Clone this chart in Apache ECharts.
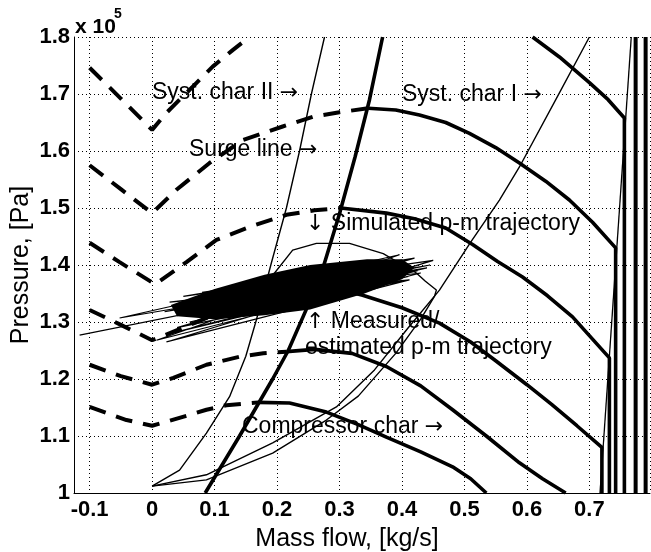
<!DOCTYPE html>
<html>
<head>
<meta charset="utf-8">
<script src="https://cdn.jsdelivr.net/npm/echarts@6/dist/echarts.min.js"></script>
<style>
  html, body { margin: 0; padding: 0; background: #fff; }
  #chart { width: 651px; height: 552px; }
</style>
</head>
<body>
<div id="chart"></div>
<script>
// pressure in units of 1e5 Pa, mass flow in kg/s

// compressor speed lines: dashed part (unstable / reverse flow) and solid part (stable, ending in choke)
const s1Dash = [[-0.1, 1.746], [-0.05, 1.692], [0, 1.637], [0.023, 1.667], [0.044, 1.69], [0.068, 1.716], [0.097, 1.748], [0.129, 1.777], [0.156, 1.8]];
const s1Solid = [[0.609, 1.8], [0.652, 1.765], [0.7, 1.72], [0.73, 1.69], [0.756, 1.658], [0.756, 1.0]];

const s2Dash = [[-0.1, 1.575], [-0.05, 1.533], [0, 1.491], [0.039, 1.532], [0.092, 1.579], [0.145, 1.619], [0.209, 1.643], [0.257, 1.66], [0.3, 1.668], [0.346, 1.675]];
const s2Solid = [[0.346, 1.675], [0.39, 1.672], [0.428, 1.663], [0.47, 1.65], [0.508, 1.631], [0.55, 1.606], [0.588, 1.579], [0.63, 1.547], [0.668, 1.514], [0.705, 1.475], [0.742, 1.43], [0.742, 1.0]];

const s3Dash = [[-0.1, 1.439], [-0.052, 1.405], [0.005, 1.366], [0.055, 1.405], [0.103, 1.444], [0.156, 1.467], [0.215, 1.488], [0.26, 1.496], [0.302, 1.5]];
const s3Solid = [[0.302, 1.5], [0.375, 1.491], [0.42, 1.481], [0.47, 1.465], [0.513, 1.436], [0.553, 1.406], [0.593, 1.379], [0.633, 1.346], [0.673, 1.309], [0.705, 1.27], [0.732, 1.237], [0.732, 1.0]];

const s4Dash = [[-0.1, 1.321], [-0.05, 1.295], [0, 1.268], [0.05, 1.29], [0.1, 1.313], [0.15, 1.333], [0.2, 1.35], [0.259, 1.362]];
const s4Solid = [[0.259, 1.362], [0.3, 1.357], [0.337, 1.347], [0.4, 1.325], [0.46, 1.298], [0.51, 1.265], [0.55, 1.232], [0.6, 1.19], [0.64, 1.155], [0.68, 1.118], [0.72, 1.08], [0.72, 1.0]];

const s5Dash = [[-0.1, 1.225], [-0.05, 1.205], [0, 1.19], [0.034, 1.202], [0.087, 1.225], [0.14, 1.239], [0.178, 1.245], [0.215, 1.248]];
const s5Solid = [[0.215, 1.248], [0.26, 1.252], [0.32, 1.245], [0.375, 1.222], [0.43, 1.188], [0.481, 1.146], [0.535, 1.1], [0.588, 1.053], [0.625, 1.025], [0.662, 1.0]];

const s6Dash = [[-0.1, 1.151], [-0.041, 1.128], [0, 1.118], [0.023, 1.125], [0.087, 1.146], [0.119, 1.154], [0.17, 1.159]];
const s6Solid = [[0.17, 1.159], [0.22, 1.158], [0.279, 1.142], [0.33, 1.12], [0.375, 1.098], [0.43, 1.072], [0.481, 1.046], [0.51, 1.025], [0.535, 1.0]];

// speed lines whose curves lie above the plot: only their choke part shows
const choke7 = [[0.774, 1.8], [0.774, 1.0]];
const choke8 = [[0.79, 1.8], [0.79, 1.0]];
const chokeThin = [[0.717, 1.0], [0.767, 1.8]];

const surgeLine = [[0.085, 1.0], [0.14, 1.1], [0.193, 1.2], [0.218, 1.25], [0.25, 1.33], [0.275, 1.4], [0.3, 1.49], [0.325, 1.59], [0.348, 1.69], [0.369, 1.8]];

const systCharI = [[0, 1.012], [0.087, 1.032], [0.193, 1.088], [0.295, 1.151], [0.356, 1.216], [0.41, 1.29], [0.46, 1.356], [0.51, 1.44], [0.556, 1.514], [0.588, 1.572], [0.652, 1.702], [0.7, 1.8]];
const systCharII = [[0, 1.012], [0.044, 1.04], [0.087, 1.105], [0.124, 1.169], [0.15, 1.24], [0.167, 1.304], [0.191, 1.404], [0.215, 1.5], [0.236, 1.6], [0.255, 1.7], [0.276, 1.8]];

const simTraj = [[0, 1.012], [0.087, 1.023], [0.193, 1.07], [0.279, 1.128], [0.33, 1.17], [0.39, 1.245], [0.43, 1.305], [0.452, 1.345], [0.455, 1.356], [0.437, 1.372], [0.423, 1.386], [0.37, 1.42], [0.316, 1.438], [0.263, 1.438], [0.225, 1.426], [0.191, 1.379]];

// measured / estimated trajectory: strokes back and forth plus the dense core
const measTraj = [
  [-0.116, 1.277], [0.445, 1.4],
  [-0.052, 1.307], [0.396, 1.418],
  [0.007, 1.268], [0.43, 1.386],
  [0.028, 1.335], [0.412, 1.374],
  [0.023, 1.265], [0.45, 1.408],
  [0.05, 1.345], [0.42, 1.412],
  [0.04, 1.29], [0.4, 1.372],
  [0.06, 1.3], [0.44, 1.395],
  [0.02, 1.318], [0.38, 1.4],
  [0.08, 1.352], [0.425, 1.39],
  [0.03, 1.28], [0.41, 1.38]
];
const measCore = [[0.03, 1.33], [0.1, 1.358], [0.18, 1.383], [0.253, 1.4], [0.344, 1.41], [0.4, 1.41], [0.42, 1.395], [0.4, 1.375], [0.34, 1.35], [0.253, 1.322], [0.18, 1.312], [0.1, 1.305], [0.04, 1.31]];

const FONT = '"Liberation Sans", Arial, Helvetica, sans-serif';

function curve(data, width, dashed, z) {
  return {
    type: 'line',
    data: data,
    symbol: 'none',
    silent: true,
    z: z || 2,
    lineStyle: { color: '#000', width: width, type: dashed ? [17, 11] : 'solid', cap: 'butt' },
  };
}

// annotation text; {r|..} parts are arrows drawn with DejaVu Sans
function label(text, x, y) {
  return {
    type: 'text', x: x, y: y, z: 100,
    style: {
      text: text, font: '23px ' + FONT, fill: '#000', verticalAlign: 'middle',
      rich: { r: { fontFamily: '"DejaVu Sans"', fontSize: 22, fill: '#000' } },
    },
  };
}

const chart = echarts.init(document.getElementById('chart'));
chart.setOption({
  animation: false,
  backgroundColor: '#fff',
  grid: { left: 74, right: 1, top: 37, bottom: 59, containLabel: false, outerBoundsMode: 'none' },
  xAxis: {
    type: 'value', min: -0.125, max: 0.797, splitNumber: 9,
    name: 'Mass flow, [kg/s]', nameLocation: 'middle', nameGap: 34, nameMoveOverlap: false,
    nameTextStyle: { fontFamily: FONT, fontSize: 25, color: '#000', padding: [0, 30, 0, 0] },
    axisLine: { onZero: false, lineStyle: { color: '#000', width: 1 } },
    axisTick: { show: false },
    axisLabel: {
      fontFamily: FONT, fontSize: 22, fontWeight: 'bold', color: '#000', margin: 6,
      showMinLabel: false, showMaxLabel: false,
      formatter: (v) => String(Math.round(v * 10) / 10),
    },
    splitLine: { show: true, lineStyle: { color: '#000', width: 1, type: [1, 3] } },
  },
  yAxis: {
    type: 'value', min: 1, max: 1.8, interval: 0.1,
    name: 'Pressure, [Pa]', nameLocation: 'middle', nameGap: 40, nameMoveOverlap: false,
    nameTextStyle: { fontFamily: FONT, fontSize: 25, color: '#000' },
    axisLine: { show: true, onZero: false, lineStyle: { color: '#000', width: 1 } },
    axisTick: { show: false },
    axisLabel: {
      fontFamily: FONT, fontSize: 22, fontWeight: 'bold', color: '#000', margin: 4,
      formatter: (v) => String(Math.round(v * 10) / 10),
    },
    splitLine: { show: true, lineStyle: { color: '#000', width: 1, type: [1, 3] } },
  },
  graphic: [
    { type: 'text', x: 75, y: 27, style: { text: 'x 10', font: 'bold 21px ' + FONT, fill: '#000', verticalAlign: 'middle' } },
    { type: 'text', x: 114, y: 14, style: { text: '5', font: 'bold 14px ' + FONT, fill: '#000', verticalAlign: 'middle' } },
    label('Syst. char II {r|\u2192}', 152, 93),
    label('Surge line {r|\u2192}', 189, 150),
    label('Syst. char I {r|\u2192}', 402, 95),
    label('{r|\u2193} Simulated p-m trajectory', 306, 224),
    label('{r|\u2191} Measured/', 306, 322),
    label('estimated p-m trajectory', 305, 348),
    label('Compressor char {r|\u2192}', 242, 427),
  ],
  series: [
    curve(s1Dash, 4, true), curve(s1Solid, 3.6, false),
    curve(s2Dash, 4, true), curve(s2Solid, 3.6, false),
    curve(s3Dash, 4, true), curve(s3Solid, 3.6, false),
    curve(s4Dash, 4, true), curve(s4Solid, 3.6, false),
    curve(s5Dash, 4, true), curve(s5Solid, 3.6, false),
    curve(s6Dash, 4, true), curve(s6Solid, 3.6, false),
    curve(choke7, 4, false), curve(choke8, 4, false),
    curve(chokeThin, 1.3, false),
    curve(surgeLine, 3.6, false),
    curve(systCharI, 1.4, false),
    curve(systCharII, 1.4, false),
    curve(simTraj, 1.4, false),
    curve(measTraj, 1.2, false, 5),
    {
      type: 'custom',
      data: measCore,
      z: 5,
      silent: true,
      renderItem: (params, api) => {
        if (params.dataIndex !== 0) return null;
        const pts = measCore.map((p) => api.coord(p));
        return { type: 'polygon', shape: { points: pts }, style: { fill: '#000' } };
      },
    },
  ],
});
</script>
</body>
</html>
